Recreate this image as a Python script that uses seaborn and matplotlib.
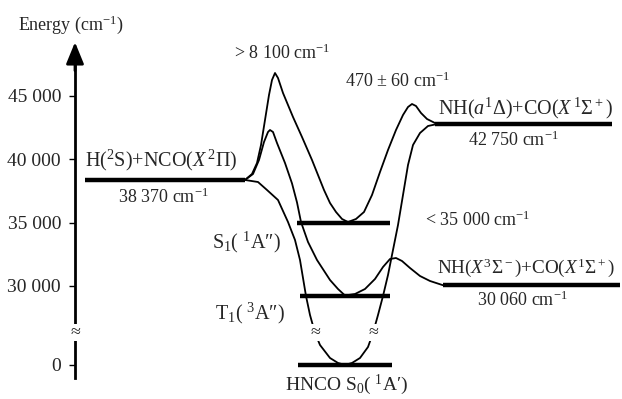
import matplotlib
matplotlib.use("Agg")
import matplotlib.pyplot as plt
import seaborn as sns
import numpy as np

# energies in cm-1; values below BREAK_E sit under the axis break
BREAK_E = 10000
BREAK_SHIFT = 23763

tick_energies = [0, 30000, 35000, 40000, 45000]
tick_labels = ["0", "30 000", "35 000", "40 000", "45 000"]

# asymptotes and wells: energy, x start, x end
level_names = ["H+NCO", "NH(a)+CO", "NH(X)+CO", "S1", "T1", "S0"]
level_energy = [38370, 42750, 30060, 35000, 29200, 0]
level_x0 = [85, 435, 443, 297, 300, 298]
level_x1 = [245, 612, 620, 390, 390, 392]

# schematic potential curves (reaction coordinate, energy)
s1_x = [245, 252, 257, 261, 265, 269, 272, 275, 278, 283, 293, 302, 312, 318, 324, 330, 336, 342, 348,
        356, 364, 372, 380, 388, 396, 403, 408, 412, 416, 421, 427, 433, 438]
s1_e = [38370, 38842, 39711, 41132, 43105, 45079, 46263, 46816, 46421, 45237, 43342, 41763, 39947,
        38763, 37579, 36553, 35842, 35290, 35050,
        35290, 35842, 37184, 39000, 40737, 42316, 43500, 44131, 44368, 44210, 43658, 43184, 42947, 42750]

t1_x = [245, 253, 259, 264, 268, 270, 273, 277, 285, 292, 297, 301, 308, 317, 330, 338, 345,
        355, 365, 375, 383, 390, 396, 402, 410, 420, 430, 443]
t1_e = [38370, 38842, 39947, 41368, 42158, 42316, 42158, 41289, 39711, 38100, 36600, 35052, 33474,
        32052, 30474, 29763, 29250,
        29368, 29763, 30553, 31500, 32131, 32210, 31974, 31421, 30789, 30395, 30060]

s0_x = [245, 258, 267, 278, 288, 295, 300, 303, 306, 310, 315, 320, 330, 338, 345,
        352, 360, 368, 373, 378, 383, 388, 393, 398, 403, 408, 413, 420, 428, 435]
s0_e = [38370, 38210, 37579, 36789, 35052, 33632, 32052, 30632, 29210, 27710, 2527, 1578, 553, 160, 0,
        160, 553, 1421, 2527, 27710, 29210, 30868, 32842, 34816, 37184, 39553, 41132, 42079, 42632, 42750]


def to_axis(e):
    e = np.asarray(e, dtype=float)
    return np.where(e < BREAK_E, e + BREAK_SHIFT, e)


sns.set_theme(style="white")
plt.rcParams["font.family"] = ["Liberation Serif", "DejaVu Serif"]
plt.rcParams["mathtext.fontset"] = "custom"
plt.rcParams["mathtext.rm"] = "Liberation Serif"
plt.rcParams["mathtext.it"] = "Liberation Serif:italic"

fig = plt.figure(figsize=(6.22, 3.99), dpi=100)
ax = fig.add_axes([0, 0, 1, 1])
ax.set_xlim(0, 622)
ax.set_ylim(21078, 52579)

for xs, es in [(s1_x, s1_e), (t1_x, t1_e), (s0_x, s0_e)]:
    sns.lineplot(x=xs, y=to_axis(es), sort=False, estimator=None, color="black",
                 lw=1.3, ax=ax, solid_joinstyle="round")

ax.hlines(to_axis(level_energy), level_x0, level_x1, color="black", lw=3.2)

# energy axis
for side in ["top", "right", "bottom"]:
    ax.spines[side].set_visible(False)
ax.spines["left"].set_position(("data", 75))
ax.spines["left"].set_bounds(22736, 47900)
ax.spines["left"].set_linewidth(2.0)
ax.spines["left"].set_color("black")
ax.set_xticks([])
ax.set_yticks(to_axis(tick_energies))
ax.set_yticklabels(tick_labels, fontsize=14)
ax.tick_params(axis="y", direction="out", length=4, width=1, color="black", pad=6, left=True)
ax.annotate("", xy=(75, 49250), xytext=(75, 47000),
            arrowprops=dict(arrowstyle="-|>,head_width=0.45,head_length=1.1", lw=2.0,
                            color="black", shrinkA=0, shrinkB=0))

# break marks on the axis and on the S0 well
brk = to_axis([2527])[0]
for bx in [75, 315, 373]:
    ax.text(bx, brk, "≈", ha="center", va="center", fontsize=13,
            bbox=dict(boxstyle="square,pad=0.0", fc="white", ec="none"))

fs = 13
fl = 14.5
ax.text(18, 50605, "Energy (cm$^{-1}$)", ha="left", va="center", fontsize=fs)
ax.text(282, 48395, "> 8 100 cm$^{-1}$", ha="center", va="center", fontsize=fs)
ax.text(345, 46184, "470 ± 60 cm$^{-1}$", ha="left", va="center", fontsize=fs)
ax.text(438, 44053, "NH($a^1$Δ)+CO($X^{\\,1}$Σ$^+$)", ha="left", va="center", fontsize=fl)
ax.text(468, 41526, "42 750 cm$^{-1}$", ha="left", va="center", fontsize=fs)
ax.text(425, 35210, "< 35 000 cm$^{-1}$", ha="left", va="center", fontsize=fs)
ax.text(437, 31421, "NH($X^3$Σ$^-$)+CO($X^1$Σ$^+$)", ha="left", va="center", fontsize=13.8)
ax.text(477, 28895, "30 060 cm$^{-1}$", ha="left", va="center", fontsize=fs)
ax.text(85, 39947, "H($^2$S)+NCO($X^{\\,2}$Π)", ha="left", va="center", fontsize=fl)
ax.text(118, 37026, "38 370 cm$^{-1}$", ha="left", va="center", fontsize=fs)
ax.text(212, 33474, "S$_1$( $^1$A″)", ha="left", va="center", fontsize=fl)
ax.text(215, 27868, "T$_1$( $^3$A″)", ha="left", va="center", fontsize=fl)
ax.text(285, 22180, "HNCO S$_0$( $^1$A′)", ha="left", va="center", fontsize=14)

fig.savefig("out.png", dpi=100)
